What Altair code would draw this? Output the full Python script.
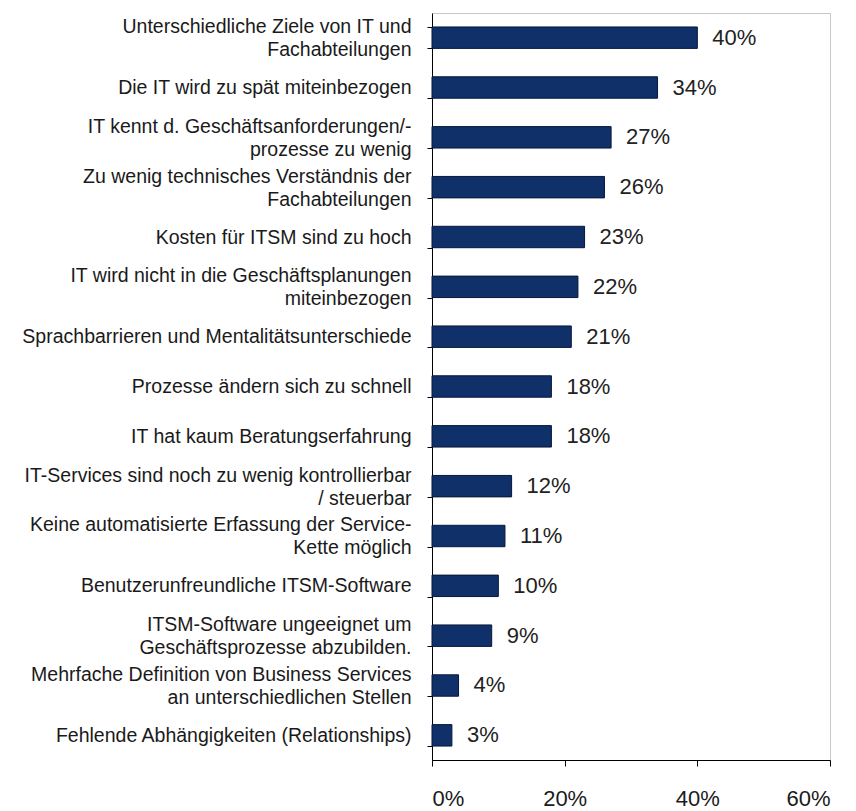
import altair as alt
import pandas as pd

categories = [
    "Unterschiedliche Ziele von IT und|Fachabteilungen",
    "Die IT wird  zu spät miteinbezogen",
    "IT kennt d. Geschäftsanforderungen/-|prozesse zu wenig",
    "Zu wenig technisches Verständnis der|Fachabteilungen",
    "Kosten für ITSM sind zu hoch",
    "IT wird  nicht in die Geschäftsplanungen|miteinbezogen",
    "Sprachbarrieren und Mentalitätsunterschiede",
    "Prozesse ändern sich zu schnell",
    "IT hat kaum Beratungserfahrung",
    "IT-Services sind noch zu wenig kontrollierbar|/ steuerbar",
    "Keine automatisierte Erfassung der Service-|Kette möglich",
    "Benutzerunfreundliche ITSM-Software",
    "ITSM-Software ungeeignet um|Geschäftsprozesse abzubilden.",
    "Mehrfache Definition von Business Services|an unterschiedlichen Stellen",
    "Fehlende Abhängigkeiten (Relationships)",
]
values = [40, 34, 27, 26, 23, 22, 21, 18, 18, 12, 11, 10, 9, 4, 3]
x_ticks = [0, 20, 40, 60]

df = pd.DataFrame({"cat": categories, "val": values})
df["lbl"] = df["val"].astype(str) + "%"

FONT = "Liberation Sans"

y_enc = alt.Y(
    "cat:N",
    sort=categories,
    title=None,
    scale=alt.Scale(paddingInner=0.57, paddingOuter=0.28),
    axis=alt.Axis(
        labelExpr="split(datum.label, '|')",
        labelFont=FONT,
        labelFontSize=19.5,
        labelColor="#1a1a1a",
        labelLineHeight=23,
        labelPadding=16,
        labelLimit=440,
        labelOffset={"expr": "indexof(datum.label, '|') >= 0 ? -11 : 0"},
        tickBand="extent",
        tickSize=5,
        tickColor="#000000",
        domainColor="#000000",
        grid=False,
    ),
)

bars = alt.Chart(df).mark_bar(color="#10306a", stroke="#07183a", strokeWidth=1).encode(
    x=alt.X(
        "val:Q",
        scale=alt.Scale(domain=[0, 60]),
        title=None,
        axis=alt.Axis(
            values=x_ticks,
            labelExpr="datum.value + '%'",
            labelFont=FONT,
            labelFontSize=22,
            labelColor="#1a1a1a",
            labelPadding=22,
            tickSize=6,
            tickColor="#000000",
            domainColor="#000000",
            grid=False,
        ),
    ),
    y=y_enc,
)

text = alt.Chart(df).mark_text(
    align="left", baseline="middle", dx=15, font=FONT, fontSize=22, color="#222222"
).encode(
    x=alt.X("val:Q"),
    y=alt.Y("cat:N", sort=categories),
    text="lbl:N",
)

chart = (
    alt.layer(bars, text)
    .properties(
        width=398,
        height=747,
        autosize=alt.AutoSizeParams(type="none"),
        padding={"left": 432, "top": 13, "right": 26, "bottom": 51},
        background="#ffffff",
    )
    .configure_view(stroke="#c8c8c8", strokeWidth=1)
)

chart.save("out.html", embed_options={"renderer": "svg", "actions": False})
